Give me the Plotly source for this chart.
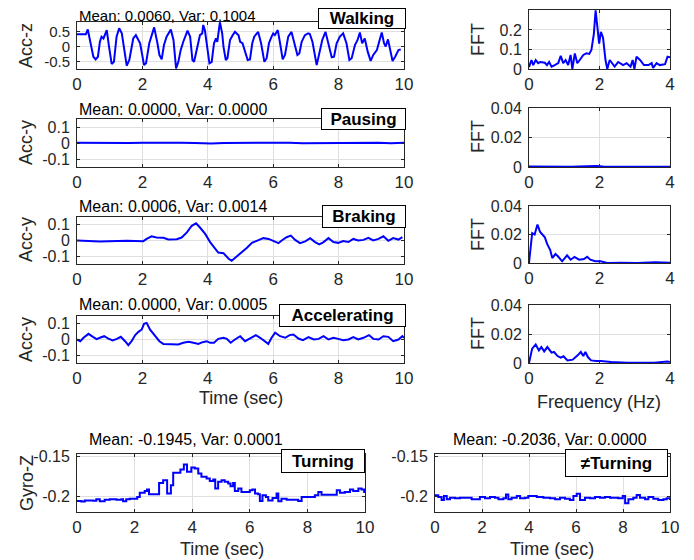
import plotly.graph_objects as go

# ---------------- data ----------------
t_walk = [0.0,0.27,0.33,0.42,0.50,0.57,0.64,0.70,0.75,0.81,
          0.87,0.91,0.98,1.06,1.13,1.21,1.29,1.37,1.44,1.52,
          1.60,1.67,1.72,1.80,1.87,1.93,2.05,2.11,2.21,2.31,
          2.36,2.46,2.52,2.59,2.66,2.74,2.81,2.87,2.95,3.03,
          3.10,3.17,3.25,3.33,3.38,3.46,3.53,3.58,3.66,3.76,
          3.83,3.86,3.91,3.96,4.05,4.12,4.19,4.25,4.29,4.37,
          4.44,4.48,4.55,4.60,4.68,4.76,4.83,4.94,4.99,5.06,
          5.14,5.22,5.29,5.36,5.42,5.49,5.54,5.63,5.73,5.80,
          5.87,5.95,6.00,6.05,6.14,6.21,6.29,6.36,6.46,6.56,
          6.64,6.74,6.80,6.87,6.97,7.07,7.12,7.20,7.33,7.40,
          7.50,7.60,7.68,7.79,7.86,7.94,8.04,8.14,8.24,8.33,
          8.40,8.50,8.58,8.65,8.72,8.80,8.89,8.98,9.06,9.17,
          9.24,9.32,9.39,9.44,9.51,9.58,9.65,9.73,9.83,9.90]
acc_walk = [0.41,0.41,0.57,0.11,-0.34,-0.43,-0.34,0.16,0.33,0.27,
            0.49,0.55,-0.01,-0.58,-0.51,0.33,0.61,0.44,-0.06,-0.64,
            -0.45,0.0,0.27,0.38,0.24,0.11,-0.62,-0.56,0.11,0.49,
            0.64,0.11,-0.28,-0.43,0.05,0.33,0.44,0.57,0.22,-0.73,
            -0.51,-0.12,0.16,0.38,0.53,0.33,-0.45,-0.51,-0.12,0.38,
            0.44,0.72,0.55,0.11,-0.56,-0.51,0.11,0.27,0.16,0.81,
            0.44,-0.01,-0.45,-0.39,0.22,0.38,0.49,0.38,0.16,0.11,
            -0.17,-0.45,-0.43,0.11,0.33,0.44,0.49,0.11,-0.51,-0.39,
            0.11,0.33,0.44,0.38,0.55,0.11,-0.43,-0.28,0.33,0.49,
            0.11,-0.28,-0.23,0.16,0.38,0.44,0.42,0.16,-0.62,-0.28,
            0.22,0.49,0.11,-0.36,-0.34,0.11,0.33,0.44,0.11,-0.45,
            -0.39,0.05,0.22,0.47,0.11,0.27,-0.17,-0.48,-0.28,-0.12,
            0.16,0.47,0.11,0.0,0.24,-0.12,-0.48,-0.34,-0.12,-0.10]

f_walk = [0,0.07,0.12,0.19,0.26,0.32,0.45,0.51,0.57,0.64,
          0.73,0.83,0.90,0.97,1.04,1.11,1.18,1.23,1.30,1.37,
          1.44,1.54,1.63,1.71,1.77,1.84,1.89,1.95,1.99,2.04,
          2.10,2.17,2.22,2.29,2.36,2.43,2.53,2.67,2.77,2.88,
          2.94,2.99,3.05,3.15,3.26,3.39,3.48,3.52,3.62,3.71,
          3.86,3.93,4.0]
fft_walk = [0.01,0.046,0.02,0.046,0.03,0.036,0.032,0.02,0.036,0.012,
            0.02,0.03,0.067,0.03,0.046,0.02,0.072,0.0,0.08,0.03,
            0.046,0.072,0.08,0.077,0.097,0.18,0.30,0.19,0.13,0.19,
            0.16,0.046,0.0,0.046,0.03,0.012,0.036,0.02,0.03,0.012,
            0.046,0.0,0.063,0.046,0.02,0.02,0.03,0.005,0.03,0.02,
            0.025,0.063,0.06]

t_pause = [0,0.4,0.8,1.1,1.3,1.6,2.0,2.4,2.8,3.2,
           3.6,3.9,4.1,4.5,4.9,5.3,5.7,6.1,6.5,6.9,
           7.3,7.6,8.0,8.4,8.8,9.2,9.6,10.0]
acc_pause = [0.002,0.001,0.000,-0.001,-0.003,0.000,0.001,0.002,0.000,0.001,
             0.000,-0.002,-0.003,0.000,0.001,-0.001,0.001,0.000,0.002,-0.001,
             0.000,-0.002,0.001,0.002,0.000,0.001,-0.001,0.001]
f_pause = [0,0.2,0.5,0.8,1.0,1.2,1.4,1.6,1.75,1.9,2.1,2.4,2.8,3.2,3.6,4.0]
fft_pause = [0.0004,0.0003,0.0003,0.0002,0.0003,0.0002,0.0004,0.0006,0.0008,0.0006,
             0.0003,0.0002,0.0001,0.0001,0.0001,0.0001]

t_brake = [0,0.7,1.52,2.03,2.13,2.28,2.43,2.64,2.79,3.05,
           3.2,3.36,3.51,3.64,3.76,3.92,4.07,4.22,4.32,4.48,
           4.63,4.73,4.88,5.04,5.19,5.35,5.5,5.7,5.86,6.01,
           6.16,6.26,6.41,6.54,6.67,6.82,6.98,7.13,7.28,7.41,
           7.54,7.69,7.84,7.99,8.14,8.3,8.45,8.6,8.76,8.91,
           9.06,9.22,9.37,9.52,9.67,9.83,9.95]
acc_brake = [0,-0.006,-0.002,-0.004,0.01,0.027,0.019,0.017,0.006,0.008,
             0.019,0.052,0.094,0.11,0.083,0.042,-0.01,-0.052,-0.077,-0.081,
             -0.115,-0.129,-0.104,-0.077,-0.048,-0.015,0.0,0.015,0.01,-0.006,
             -0.017,0.0,0.021,0.031,0.004,-0.017,-0.006,0.015,-0.01,-0.025,
             -0.01,0.015,-0.01,-0.015,-0.004,-0.01,0.01,0.0,0.004,0.017,
             0.0,0.01,0.027,-0.002,0.015,0.006,0.021]
f_brake = [0,0.09,0.16,0.24,0.31,0.38,0.45,0.52,0.6,0.66,
           0.75,0.82,0.94,1.08,1.18,1.29,1.42,1.56,1.65,1.74,
           1.88,2.03,2.22,2.6,3.07,3.59,4.0]
fft_brake = [0,0.021,0.020,0.027,0.022,0.020,0.018,0.013,0.0093,0.0035,
             0.0063,0.0047,0.0012,0.0054,0.0023,0.0042,0.0023,0.0028,0.0044,0.0023,
             0.0012,0.0012,0.0,0.0002,0.0,0.0005,0.0002]

t_accel = [0,0.1,0.2,0.35,0.5,0.6,0.7,0.83,0.96,1.09,
           1.22,1.34,1.47,1.57,1.67,1.78,1.88,1.98,2.05,2.13,
           2.23,2.39,2.52,2.64,2.79,2.95,3.1,3.25,3.41,3.56,
           3.71,3.84,3.97,4.07,4.19,4.32,4.48,4.58,4.7,4.83,
           4.99,5.14,5.29,5.47,5.6,5.75,5.85,5.95,6.06,6.21,
           6.37,6.5,6.62,6.77,6.91,7.08,7.24,7.39,7.54,7.69,
           7.84,7.99,8.14,8.3,8.45,8.6,8.76,8.93,9.06,9.22,
           9.37,9.52,9.67,9.83,9.95,10.0]
acc_accel = [0,-0.011,0.011,0.036,0.015,0.002,0.011,0.021,0.006,-0.006,
             0.004,0.017,-0.011,-0.036,-0.011,0.028,0.049,0.064,0.1,0.106,
             0.064,0.021,-0.011,-0.028,-0.028,-0.032,-0.032,-0.021,-0.015,-0.021,
             -0.028,-0.017,-0.011,-0.021,-0.021,0.004,0.011,0.004,-0.021,0.0,
             0.021,-0.011,0.006,0.028,0.011,-0.011,-0.028,0.011,0.043,0.021,
             0.011,0.028,0.032,0.006,-0.004,0.015,0.0,0.004,0.021,0.0,
             0.011,0.004,-0.004,0.0,0.015,0.0,0.011,0.028,0.004,0.0,
             0.021,0.017,-0.011,0.0,0.021,0.011]
f_accel = [0,0.09,0.19,0.28,0.35,0.43,0.52,0.64,0.71,0.81,
           0.9,0.98,1.09,1.24,1.38,1.47,1.54,1.6,1.67,1.76,
           1.9,2.04,2.33,2.8,3.55,3.93,4.0]
fft_accel = [0,0.0099,0.0127,0.0087,0.011,0.008,0.011,0.0071,0.0076,0.0048,
             0.0037,0.0046,0.0018,0.0023,0.0053,0.0076,0.0048,0.0076,0.0041,0.0018,
             0.0014,0.0014,0.0007,0.0002,0.0002,0.0011,0.0007]

t_turn = [0,0.15,0.27,0.44,0.56,0.67,0.79,0.96,1.14,1.37,
          1.54,1.6,1.71,1.83,2.0,2.09,2.18,2.35,2.43,2.5,
          2.78,2.85,2.99,3.08,3.13,3.22,3.26,3.34,3.51,3.59,
          3.71,3.78,3.82,3.92,3.97,4.09,4.21,4.32,4.5,4.61,
          4.73,4.8,4.9,5.02,5.13,5.25,5.33,5.42,5.48,5.6,
          5.71,5.89,6.0,6.09,6.18,6.29,6.35,6.44,6.56,6.64,
          6.72,6.79,6.93,6.99,7.1,7.28,7.51,7.68,7.8,8.03,
          8.15,8.26,8.38,8.49,8.67,8.84,9.02,9.13,9.3,9.48,
          9.59,9.77,9.88,9.97,10.0]
gyro_turn = [-0.2063,-0.207,-0.2055,-0.2055,-0.206,-0.204,-0.2067,-0.2046,-0.2042,-0.2046,
             -0.2042,-0.2067,-0.2042,-0.2034,-0.2034,-0.2012,-0.1958,-0.1937,-0.192,-0.1979,
             -0.1979,-0.1836,-0.1802,-0.1802,-0.197,-0.197,-0.1865,-0.171,-0.171,-0.1668,
             -0.1605,-0.1605,-0.1697,-0.1697,-0.1643,-0.1655,-0.1718,-0.176,-0.1781,-0.1811,
             -0.1794,-0.1907,-0.1823,-0.1802,-0.1823,-0.1844,-0.1878,-0.1836,-0.1937,-0.1907,
             -0.195,-0.195,-0.1928,-0.192,-0.197,-0.1979,-0.2063,-0.1991,-0.2012,-0.2055,
             -0.2055,-0.2025,-0.197,-0.2067,-0.2034,-0.2046,-0.2046,-0.2063,-0.2012,-0.2012,
             -0.2012,-0.1991,-0.195,-0.1983,-0.1983,-0.1983,-0.1928,-0.1958,-0.195,-0.192,
             -0.1937,-0.1907,-0.192,-0.195,-0.195]

t_noturn = [0,0.14,0.28,0.38,0.5,0.64,0.85,1.06,1.28,1.42,
            1.56,1.77,1.91,2.13,2.34,2.55,2.7,2.91,3.02,3.12,
            3.26,3.48,3.62,3.83,3.97,4.18,4.33,4.47,4.61,4.89,
            5.11,5.32,5.53,5.74,5.89,6.03,6.17,6.38,6.6,6.81,
            7.02,7.23,7.45,7.59,7.8,7.99,8.09,8.23,8.44,8.58,
            8.72,8.94,9.08,9.29,9.5,9.72,9.86,10.0]
gyro_noturn = [-0.1992,-0.2012,-0.2049,-0.2,-0.204,-0.2021,-0.2029,-0.2021,-0.2021,-0.2021,
               -0.204,-0.204,-0.2012,-0.2029,-0.2012,-0.2021,-0.204,-0.2029,-0.198,-0.204,
               -0.2021,-0.2,-0.2029,-0.2021,-0.2,-0.2,-0.2012,-0.2012,-0.2021,-0.2029,
               -0.204,-0.2021,-0.2033,-0.2049,-0.2,-0.1971,-0.2049,-0.2021,-0.2029,-0.2012,
               -0.2021,-0.2012,-0.2021,-0.2021,-0.2029,-0.2,-0.209,-0.204,-0.2021,-0.1988,
               -0.2021,-0.204,-0.2012,-0.2033,-0.2049,-0.204,-0.2029,-0.2049]

time_ticks = [0, 2, 4, 6, 8, 10]
freq_ticks = [0, 2, 4]
walk_yticks = [-0.5, 0, 0.5]
walk_yticktext = ["-0.5", "0", "0.5"]
acc_yticks = [-0.1, 0, 0.1]
acc_yticktext = ["-0.1", "0", "0.1"]
fft_walk_ticks = [0, 0.1, 0.2]
fft_walk_ticktext = ["0", "0.1", "0.2"]
fft_small_ticks = [0, 0.02, 0.04]
fft_small_ticktext = ["0", "0.02", "0.04"]
gyro_ticks = [-0.2, -0.15]
gyro_ticktext = ["-0.2", "-0.15"]

stats = ["Mean: 0.0060, Var: 0.1004", "Mean: 0.0000, Var: 0.0000",
         "Mean: 0.0006, Var: 0.0014", "Mean: 0.0000, Var: 0.0005",
         "Mean: -0.1945, Var: 0.0001", "Mean: -0.2036, Var: 0.0000"]
activities = ["Walking", "Pausing", "Braking", "Accelerating", "Turning", "\u2260Turning"]

# ---------------- layout helpers ----------------
# The page body has an 8px margin, so the figure is made 8px smaller and all
# screen-pixel positions below are converted with that offset.
SW, SH = 694, 560
OFF = 8
W, H = SW - OFF, SH - OFF
FONT = "Liberation Sans, Arial, Helvetica, sans-serif"
AX = "#262626"
GRID = "#dfdfdf"


def px(x):
    return (x - OFF) / W


def py(y):
    return 1 - (y - OFF) / H


def dx(a, b):
    return [px(a), px(b)]


def dy(top, bot):
    return [py(bot), py(top)]


panels = [
    (t_walk, acc_walk, (77, 404, 22, 69), [0, 10], [-0.75, 0.82], time_ticks, walk_yticks, walk_yticktext, "linear", 15),
    (f_walk, fft_walk, (529, 670, 10, 69), [0, 4], [0, 0.302], freq_ticks, fft_walk_ticks, fft_walk_ticktext, "linear", 16),
    (t_pause, acc_pause, (77, 404, 119, 167), [0, 10], [-0.15, 0.15], time_ticks, acc_yticks, acc_yticktext, "linear", 16),
    (f_pause, fft_pause, (529, 670, 108, 167), [0, 4], [0, 0.04], freq_ticks, fft_small_ticks, fft_small_ticktext, "linear", 16),
    (t_brake, acc_brake, (77, 404, 217, 264), [0, 10], [-0.15, 0.15], time_ticks, acc_yticks, acc_yticktext, "linear", 16),
    (f_brake, fft_brake, (529, 670, 206, 263), [0, 4], [0, 0.04], freq_ticks, fft_small_ticks, fft_small_ticktext, "linear", 16),
    (t_accel, acc_accel, (77, 404, 316, 363), [0, 10], [-0.15, 0.15], time_ticks, acc_yticks, acc_yticktext, "linear", 16),
    (f_accel, fft_accel, (529, 670, 305, 363), [0, 4], [0, 0.04], freq_ticks, fft_small_ticks, fft_small_ticktext, "linear", 16),
    (t_turn, gyro_turn, (77, 365, 454, 512), [0, 10], [-0.22, -0.1475], time_ticks, gyro_ticks, gyro_ticktext, "hv", 16),
    (t_noturn, gyro_noturn, (435, 670, 454, 512), [0, 10], [-0.22, -0.1475], time_ticks, gyro_ticks, gyro_ticktext, "hv", 16),
]

fig = go.Figure()
layout = {}
for i, (xs, ys, box, xr, yr, xt, yt, ytt, shape, yfs) in enumerate(panels):
    n = i + 1
    xa = "x" if n == 1 else f"x{n}"
    ya = "y" if n == 1 else f"y{n}"
    fig.add_trace(go.Scatter(x=xs, y=ys, xaxis=xa, yaxis=ya, mode="lines",
                             line=dict(color="#0000ff", width=2, shape=shape),
                             showlegend=False, hoverinfo="skip"))
    l, r, t, b = box
    common = dict(showline=True, linecolor=AX, linewidth=1, mirror="ticks",
                  ticks="inside", ticklen=3, tickcolor=AX, tickwidth=1,
                  showgrid=True, gridcolor=GRID, gridwidth=1, zeroline=False,
                  automargin=False, fixedrange=True)
    layout["xaxis" if n == 1 else f"xaxis{n}"] = dict(
        domain=dx(l, r), range=xr, anchor=ya, tickvals=xt,
        ticktext=[str(v) for v in xt], ticklabelstandoff=0,
        tickfont=dict(family=FONT, size=17, color=AX), **common)
    layout["yaxis" if n == 1 else f"yaxis{n}"] = dict(
        domain=dy(t, b), range=yr, anchor=xa, tickvals=yt, ticktext=ytt,
        ticklabelstandoff=3, tickfont=dict(family=FONT, size=yfs, color=AX), **common)

fig.update_layout(**layout)

ann = []


def text(x, y, s, size=16, angle=0, xanchor="center", color="#000000"):
    ann.append(dict(x=px(x), y=py(y), xref="paper", yref="paper", text=s,
                    showarrow=False, textangle=angle, xanchor=xanchor, yanchor="middle",
                    font=dict(family=FONT, size=size, color=color)))


# stats titles
text(77, 16, stats[0], 15, xanchor="left")
text(77, 110, stats[1], 16, xanchor="left")
text(77, 207, stats[2], 16, xanchor="left")
text(77, 305, stats[3], 16, xanchor="left")
text(186, 439, stats[4], 16)
text(550, 439, stats[5], 16)

# y-axis titles
text(26, 46, "Acc-z", 18, angle=-90, color=AX)
text(26, 143, "Acc-y", 18, angle=-90, color=AX)
text(26, 240, "Acc-y", 18, angle=-90, color=AX)
text(26, 340, "Acc-y", 18, angle=-90, color=AX)
for yc in [40, 137, 235, 334]:
    text(478, yc, "FFT", 18, angle=-90, color=AX)
text(27, 483, "Gyro-Z", 18, angle=-90, color=AX)

# x-axis titles
text(241, 398, "Time (sec)", 18, color=AX)
text(599, 402, "Frequency (Hz)", 18, color=AX)
text(222, 549, "Time (sec)", 18, color=AX)
text(552, 549, "Time (sec)", 18, color=AX)

# activity boxes
boxes = [(318, 406, 8, 29), (321, 406, 108, 130), (322, 406, 205, 228),
         (279, 406, 304, 327), (281, 365, 449, 473), (565, 668, 449, 477)]
for (l, r, t, b), name in zip(boxes, activities):
    ann.append(dict(x=px(l), y=py(t), xref="paper", yref="paper", xanchor="left", yanchor="top",
                    text=f"<b>{name}</b>", showarrow=False, width=r - l - 2, height=b - t - 2,
                    align="center", valign="middle", bgcolor="#ffffff", bordercolor="#000000",
                    borderwidth=1, borderpad=0,
                    font=dict(family=FONT, size=17, color="#000000")))

fig.update_layout(annotations=ann, width=W, height=H, margin=dict(l=0, r=0, t=0, b=0),
                  paper_bgcolor="#ffffff", plot_bgcolor="#ffffff", showlegend=False)

fig.write_html("out.html")
